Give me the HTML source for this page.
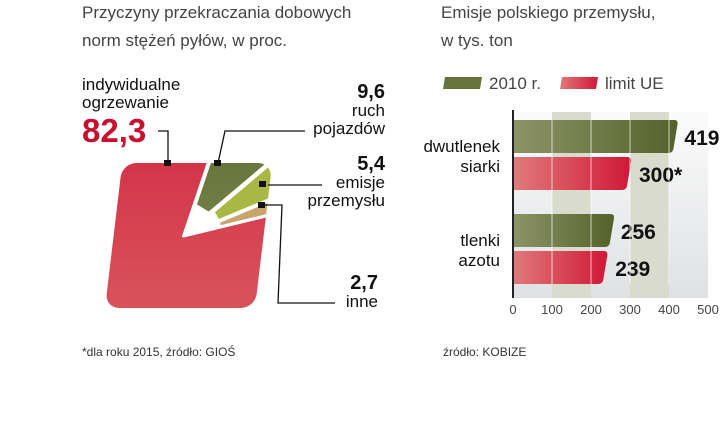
<!DOCTYPE html>
<html><head><meta charset="utf-8"><style>
body{margin:0;background:#fff;width:720px;height:425px;overflow:hidden;font-family:"Liberation Sans",sans-serif}
svg{display:block}
</style></head><body>
<svg width="720" height="425" viewBox="0 0 720 425" xmlns="http://www.w3.org/2000/svg">
<defs>
<linearGradient id="gRed" x1="0" y1="0" x2="0" y2="1"><stop offset="0" stop-color="#d01c38"/><stop offset="1" stop-color="#dc6c6c"/></linearGradient>
<linearGradient id="gDk" x1="0" y1="0" x2="0" y2="1"><stop offset="0" stop-color="#56622c"/><stop offset="1" stop-color="#707e44"/></linearGradient>
<linearGradient id="gBarG" x1="0" y1="0" x2="1" y2="0"><stop offset="0" stop-color="#8c9468"/><stop offset="1" stop-color="#55612a"/></linearGradient>
<linearGradient id="gBarR" x1="0" y1="0" x2="1" y2="0"><stop offset="0" stop-color="#e07a7a"/><stop offset="1" stop-color="#d01836"/></linearGradient>
<linearGradient id="gBg" x1="0" y1="0" x2="0" y2="1"><stop offset="0" stop-color="#fbfbfb"/><stop offset="1" stop-color="#dfe1e3"/></linearGradient>
<clipPath id="sq"><rect x="0" y="-145" width="150" height="145" rx="14"/></clipPath>
</defs>
<g font-size="17" fill="#444">
<text x="82" y="18">Przyczyny przekraczania dobowych</text>
<text x="82" y="46">norm stężeń pyłów, w proc.</text>
<text x="441" y="18">Emisje polskiego przemysłu,</text>
<text x="441" y="46">w tys. ton</text>
</g>
<g id="pie"></g>
<g id="pielabels" fill="#111">
<text x="82" y="90" font-size="17">indywidualne</text>
<text x="82" y="108" font-size="17">ogrzewanie</text>
<text x="82" y="142" font-size="33" font-weight="bold" fill="#c8102e">82,3</text>
<g text-anchor="end" font-size="17">
<text x="385" y="98" font-size="20" font-weight="bold">9,6</text>
<text x="385" y="116">ruch</text>
<text x="385" y="134">pojazdów</text>
<text x="385" y="170" font-size="20" font-weight="bold">5,4</text>
<text x="385" y="188">emisje</text>
<text x="385" y="206">przemysłu</text>
<text x="378" y="289" font-size="20" font-weight="bold">2,7</text>
<text x="378" y="307">inne</text>
</g>
<g stroke="#111" stroke-width="1.3" fill="none">
<polyline points="158,131 168,131 168,163"/>
<polyline points="305,131 225,131 218,163"/>
<polyline points="322,185 268,185"/>
<polyline points="262,205 282,205 278,303 335,303"/>
</g>
<g fill="#111">
<rect x="164" y="160" width="7" height="6"/>
<rect x="214" y="160" width="7" height="6"/>
<rect x="259" y="181" width="7" height="6"/>
<rect x="258" y="202" width="7" height="6"/>
</g>
</g>
<g>
<path d="M445,77 L482,77 L480,89 L443,89 Z" fill="#66733a"/>
<text x="489" y="89" font-size="17" fill="#444">2010 r.</text>
<path d="M562,77 L598,77 L596,89 L560,89 Z" fill="url(#gBarR)"/>
<text x="605" y="89" font-size="17" fill="#444">limit UE</text>
</g>
<g id="bars"></g>
<text x="82" y="356" font-size="12" fill="#333">*dla roku 2015, źródło: GIOŚ</text>
<text x="443" y="356" font-size="12" fill="#333">źródło: KOBIZE</text>
</svg>
<script>
const pieCategories=["indywidualne ogrzewanie","ruch pojazdów","emisje przemysłu","inne"];
const pieValues=[82.3,9.6,5.4,2.7];
const barCategories=["dwutlenek siarki","tlenki azotu"];
const series2010=[419,256];
const seriesLimit=[300,239];
const barLabels2010=["419","256"];
const barLabelsLimit=["300*","239"];
const xTicks=[0,100,200,300,400,500];

const NS="http://www.w3.org/2000/svg";
function mk(tag,attrs,parent){const e=document.createElementNS(NS,tag);for(const k in attrs)e.setAttribute(k,attrs[k]);parent.appendChild(e);return e;}

// Pie
(function(){
const pie=document.getElementById('pie');
const g=mk('g',{transform:'translate(105,308) skewX(-6.8)'},pie);
const cg=mk('g',{'clip-path':'url(#sq)'},g);
const cx=70,cy=-72,R=200;
const total=pieValues.reduce((a,b)=>a+b,0);
const fills=["url(#gRed)","url(#gDk)","#a9b845","#c9a46c"];
const names=["slice-ogrzewanie","slice-pojazdy","slice-przemysl","slice-inne"];
let a=76;
const ang=[];
for(let i=0;i<pieValues.length;i++){const sw=pieValues[i]/total*360;ang.push([a,a+sw]);a+=sw;}
for(let i=0;i<pieValues.length;i++){
 const [a0,a1]=ang[i];
 const mid=(a0+a1)/2*Math.PI/180;
 const off=i===0?0:4;
 const rin=i===0?0:(i===1?28:32);
 const ox=cx+off*Math.sin(mid), oy=cy-off*Math.cos(mid);
 const steps=Math.max(2,Math.ceil((a1-a0)/5));
 let d='';
 for(let s=0;s<=steps;s++){const t=(a0+(a1-a0)*s/steps)*Math.PI/180;d+=(s?' L':'M')+`${ox+R*Math.sin(t)},${oy-R*Math.cos(t)}`;}
 if(rin===0){d+=` L${ox},${oy}`;}
 else{const t1=a1*Math.PI/180,t0=a0*Math.PI/180;
  d+=` L${ox+rin*Math.sin(t1)},${oy-rin*Math.cos(t1)} L${ox+rin*Math.sin(t0)},${oy-rin*Math.cos(t0)}`;}
 d+='Z';
 const p=mk('path',{d:d,fill:fills[i],stroke:'#fff','stroke-width':3,'stroke-linejoin':'round'},cg);
 
 
}
})();

// Bars
(function(){
const b=document.getElementById('bars');
const x0=513,scale=0.39,top=112,bottom=298;
const xs=v=>x0+v*scale;
const bg=mk('rect',{x:x0,y:top,width:xs(500)-x0,height:bottom-top,fill:'url(#gBg)'},b);


for(let i=0;i<xTicks.length-1;i++){
 if(i%2===1){const c=mk('rect',{x:xs(xTicks[i]),y:top,width:xs(xTicks[i+1])-xs(xTicks[i]),height:bottom-top,fill:'#d9dbcc'},b);
 
 }
}
const groupY=[120,214];
const bh=33,gap=4;
for(let i=0;i<barCategories.length;i++){
 const y1=groupY[i],y2=y1+bh+gap;
 const w1=xs(series2010[i]);const w2=xs(seriesLimit[i]);
 const r1=mk('path',{d:`M${x0},${y1} L${w1-2},${y1} Q${w1+2},${y1} ${w1+1},${y1+5} L${w1-3},${y1+bh-4} Q${w1-4},${y1+bh} ${w1-8},${y1+bh} L${x0},${y1+bh} Z`,fill:'url(#gBarG)'},b);
 
 
 const r2=mk('path',{d:`M${x0},${y2} L${w2-2},${y2} Q${w2+2},${y2} ${w2+1},${y2+5} L${w2-3},${y2+bh-4} Q${w2-4},${y2+bh} ${w2-8},${y2+bh} L${x0},${y2+bh} Z`,fill:'url(#gBarR)'},b);
 
 
 const t1=mk('text',{x:w1+8,y:y1+25,'font-size':21,'font-weight':'bold',fill:'#111'},b);t1.textContent=barLabels2010[i];
 
 
 const t2=mk('text',{x:w2+9,y:y2+25,'font-size':21,'font-weight':'bold',fill:'#111'},b);t2.textContent=barLabelsLimit[i];
 
 
 const words=barCategories[i].split(' ');
 for(let k=0;k<words.length;k++){
  const t=mk('text',{x:500,y:y1+bh+gap/2-3+k*20,'text-anchor':'end','font-size':17,fill:'#111'},b);t.textContent=words[k];
  
  
 }
}
for(let i=1;i<xTicks.length-1;i++){
 const l=mk('line',{x1:xs(xTicks[i]),x2:xs(xTicks[i]),y1:groupY[0],y2:groupY[1]+2*bh+gap,stroke:'#fff','stroke-width':1,'stroke-opacity':0.7},b);
 
 
}
const ax=mk('line',{x1:x0,x2:x0,y1:110,y2:bottom,stroke:'#222','stroke-width':2},b);


for(const v of xTicks){
 const t=mk('text',{x:xs(v),y:314,'text-anchor':'middle','font-size':13,fill:'#444'},b);t.textContent=v;
 
 
}
})();
</script>
</body></html>
